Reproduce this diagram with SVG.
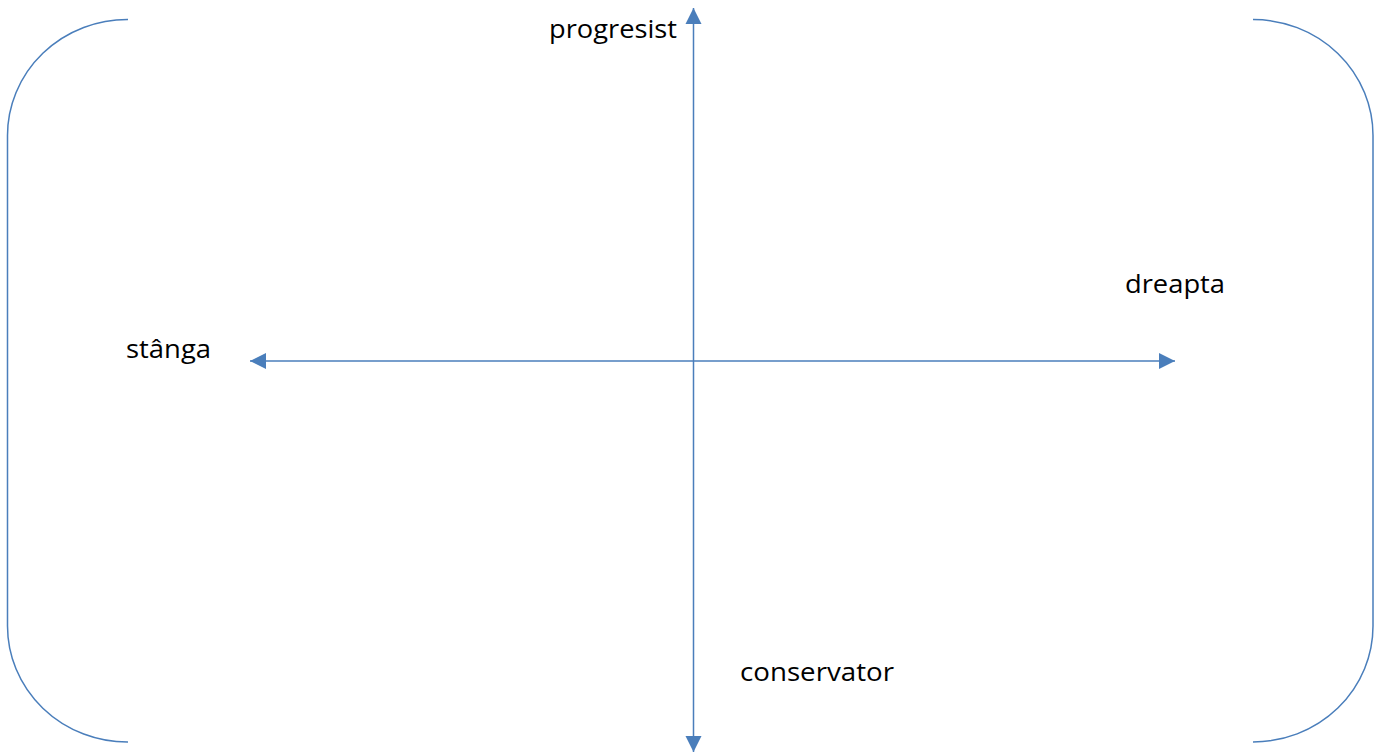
<svg xmlns="http://www.w3.org/2000/svg" width="1380" height="754" viewBox="0 0 1380 754">
<style>
.ln{fill:none;stroke:#4a7ebb;stroke-width:1.5}
.t{font-family:"Open Sans","Liberation Sans",sans-serif;font-size:25px;fill:#000}
</style>
<defs>
<marker id="ah" viewBox="0 0 10 10" refX="10" refY="5" markerWidth="10" markerHeight="10" markerUnits="userSpaceOnUse" orient="auto-start-reverse" overflow="visible">
<path d="M-6,-3 L10,5 L-6,13 Z" fill="#4a7ebb"/>
</marker>
</defs>
<rect width="1380" height="754" fill="#fff"/>
<g id="left-bracket"><path class="ln" d="M128,19.5 A120,116 0 0 0 7.5,135.5 L7.5,626 A120,116 0 0 0 128,742"/></g>
<g id="right-bracket"><path class="ln" d="M1253,19.5 A120,116 0 0 1 1373,135.5 L1373,626 A120,116 0 0 1 1253,742"/></g>
<g id="connectors">
<line class="ln" x1="693.5" y1="8" x2="693.5" y2="752" marker-start="url(#ah)" marker-end="url(#ah)"/>
<line class="ln" x1="250" y1="361" x2="1175" y2="361" marker-start="url(#ah)" marker-end="url(#ah)"/>
</g>
<g id="progresist"><text class="t" x="549" y="38" textLength="128" lengthAdjust="spacingAndGlyphs">progresist</text></g>
<g id="stanga"><text class="t" x="126" y="358" textLength="85" lengthAdjust="spacingAndGlyphs">stânga</text></g>
<g id="dreapta"><text class="t" x="1125" y="293" textLength="100" lengthAdjust="spacingAndGlyphs">dreapta</text></g>
<g id="conservator"><text class="t" x="740" y="681" textLength="154" lengthAdjust="spacingAndGlyphs">conservator</text></g>
</svg>
